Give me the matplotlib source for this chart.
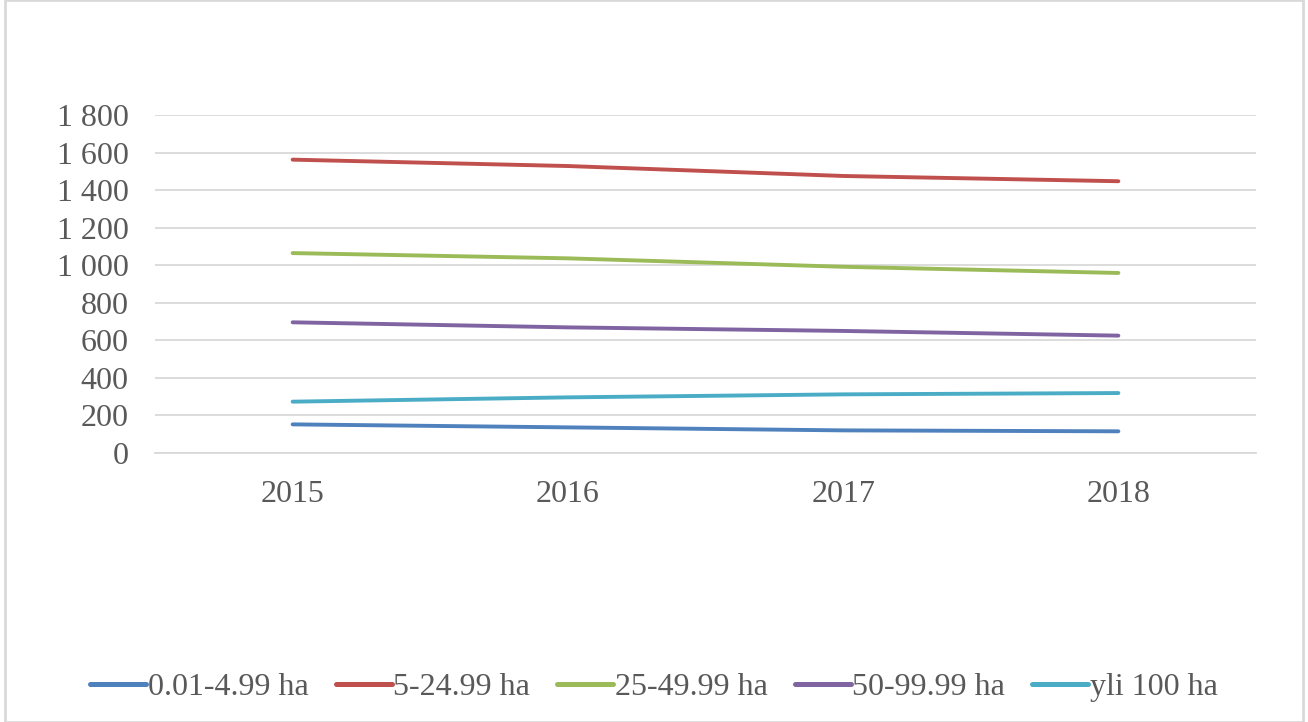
import matplotlib.pyplot as plt
from matplotlib.patches import Rectangle
from matplotlib.ticker import FuncFormatter

years = ['2015', '2016', '2017', '2018']
s_001_499 = [151, 135, 119, 114]
s_5_2499 = [1562, 1528, 1475, 1447]
s_25_4999 = [1064, 1036, 991, 958]
s_50_9999 = [695, 668, 649, 624]
s_yli_100 = [272, 295, 311, 318]
labels = ['0.01-4.99 ha', '5-24.99 ha', '25-49.99 ha', '50-99.99 ha', 'yli 100 ha']
colors = ['#4f81bd', '#c0504d', '#9bbb59', '#8064a2', '#4bacc6']

plt.rcParams['font.family'] = ['Liberation Serif', 'DejaVu Serif']
txt = '#595959'

fig = plt.figure(figsize=(13.08, 7.22), dpi=100)
ax = fig.add_axes([155 / 1308, 1 - 452.7 / 722, (1256 - 155) / 1308, (452.7 - 115) / 722])

x = range(len(years))
for vals, lab, c in zip([s_001_499, s_5_2499, s_25_4999, s_50_9999, s_yli_100], labels, colors):
    ax.plot(x, vals, color=c, lw=2.8, solid_capstyle='round', label=lab, zorder=3)

ax.set_xlim(-0.5, 3.5)
ax.set_ylim(0, 1800)
ax.set_yticks(range(0, 1801, 200))
ax.yaxis.set_major_formatter(FuncFormatter(lambda v, p: f'{int(v):,}'.replace(',', ' ')))
ax.set_xticks(list(x))
ax.set_xticklabels(years)
ax.grid(axis='y', color='#d9d9d9', lw=1.3)
ax.set_axisbelow(True)
for sp in ['top', 'right', 'left']:
    ax.spines[sp].set_visible(False)
ax.spines['bottom'].set_color('#d9d9d9')
ax.spines['bottom'].set_linewidth(1.3)
ax.tick_params(axis='both', length=0, labelsize=23, colors=txt)
ax.tick_params(axis='y', pad=19)
ax.tick_params(axis='x', pad=20)

leg = fig.legend(loc='center', bbox_to_anchor=(0.5, 1 - 687 / 722), ncol=5, frameon=False,
                 fontsize=23, handlelength=1.75, handletextpad=0.05, columnspacing=0.85)
for t in leg.get_texts():
    t.set_color(txt)
for h in leg.get_lines():
    h.set_linewidth(3.6)
    h.set_solid_capstyle('round')

fig.patches.append(Rectangle((5 / 1308, 0), 1298 / 1308, 1, transform=fig.transFigure,
                             fill=False, edgecolor='#d9d9d9', lw=2))

fig.savefig('out.png', dpi=100)
